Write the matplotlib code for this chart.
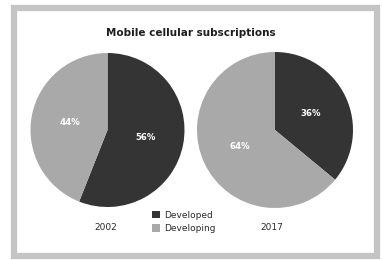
import matplotlib
matplotlib.use("Agg")
import matplotlib.pyplot as plt
from matplotlib.patches import Rectangle, Patch

# data
years = ["2002", "2017"]
categories = ["Developed", "Developing"]
shares = {"2002": [56, 44], "2017": [36, 64]}
colors = ["#343434", "#a9a9a9"]

fig = plt.figure(figsize=(3.82, 2.60), dpi=100)
fig.patch.set_facecolor("white")

# grey frame round the panel
fig.patches.append(Rectangle((13.5 / 382, 1 - 256 / 260), 363 / 382, 248 / 260,
                             transform=fig.transFigure, fill=False,
                             edgecolor="#c4c4c4", linewidth=4.5))

fig.text(0.5, 1 - 33 / 260, "Mobile cellular subscriptions", ha="center", va="center",
         fontsize=7.5, fontweight="bold", color="#1e1e1e")

# axes boxes (pixel based) for the two pies
boxes = [(30.5, 53, 154), (197, 52, 156)]
year_x = [106, 272]

for yr, (x0, y0, s), yx in zip(years, boxes, year_x):
    ax = fig.add_axes([x0 / 382, 1 - (y0 + s) / 260, s / 382, s / 260])
    wedges, texts, autotexts = ax.pie(shares[yr], colors=colors, startangle=90,
                                      counterclock=False, radius=1,
                                      autopct="%d%%", pctdistance=0.5,
                                      wedgeprops=dict(linewidth=0))
    for t in autotexts:
        t.set_color("white")
        t.set_fontsize(6.2)
        t.set_fontweight("bold")
    ax.set_xlim(-1, 1)
    ax.set_ylim(-1, 1)
    ax.set_aspect("auto")
    ax.axis("off")
    fig.text(yx / 382, 1 - 227 / 260, yr, ha="center", va="center",
             fontsize=6.5, color="#2a2a2a")

handles = [Patch(facecolor=c, edgecolor="none") for c in colors]
fig.legend(handles, categories, loc="center", bbox_to_anchor=(184 / 382, 1 - 222 / 260),
           frameon=False, fontsize=6.5, handlelength=0.9, handleheight=0.9,
           handletextpad=0.5, labelspacing=0.5, labelcolor="#2a2a2a")

fig.savefig("out.png", dpi=100)
